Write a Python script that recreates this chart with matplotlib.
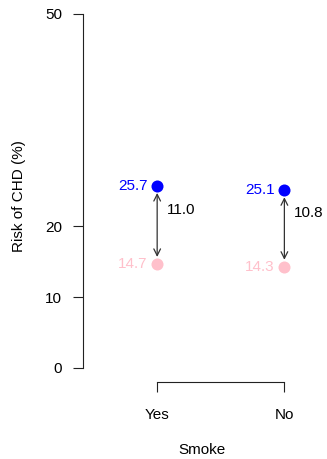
import matplotlib
matplotlib.use("Agg")
import matplotlib.pyplot as plt

plt.rcParams['font.family'] = ['Liberation Sans', 'DejaVu Sans']

# data
groups = ['Yes', 'No']
risk_high = [25.7, 25.1]   # blue points
risk_low = [14.7, 14.3]    # pink points
y_ticks = [0, 10, 20, 50]

W, H, DPI = 327, 459, 100
fig = plt.figure(figsize=(W / DPI, H / DPI), dpi=DPI)

# axes box in pixels: left 83, right 320, top 10, bottom 382
ax = fig.add_axes([83 / W, (H - 382) / H, (320 - 83) / W, (382 - 10) / H])

x = [1, 2]
ax.set_xlim(0.417, 2.28)
ax.set_ylim(-1.98, 50.56)

ax.scatter(x, risk_low, s=75, color='pink', zorder=3, linewidths=0)
ax.scatter(x, risk_high, s=75, color='blue', zorder=3, linewidths=0)

fs = 11
for xi, hi, lo in zip(x, risk_high, risk_low):
    ax.annotate('', xy=(xi, lo), xytext=(xi, hi),
                arrowprops=dict(arrowstyle='<->', color='#333333', lw=0.9,
                                shrinkA=5, shrinkB=5, mutation_scale=12))
    ax.annotate(f'{hi:.1f}', (xi, hi), xytext=(-7, 0), textcoords='offset points',
                ha='right', va='center', color='blue', fontsize=fs)
    ax.annotate(f'{lo:.1f}', (xi, lo), xytext=(-7, 0), textcoords='offset points',
                ha='right', va='center', color='pink', fontsize=fs)
    ax.annotate(f'{hi - lo:.1f}', (xi, (hi + lo) / 2), xytext=(7, 11),
                textcoords='offset points', ha='left', va='center',
                color='black', fontsize=fs)

for side in ['top', 'right']:
    ax.spines[side].set_visible(False)
ax.spines['left'].set_bounds(0, 50)
ax.spines['bottom'].set_bounds(1, 2)
for side in ['left', 'bottom']:
    ax.spines[side].set_linewidth(0.8)
    ax.spines[side].set_color('#222222')

ax.set_yticks(y_ticks)
ax.set_xticks(x)
ax.set_xticklabels(groups)
ax.tick_params(axis='both', length=7, width=0.8, color='#222222', labelsize=fs)
ax.tick_params(axis='x', pad=12)
ax.tick_params(axis='y', pad=8)

ax.set_ylabel('Risk of CHD (%)', fontsize=fs, labelpad=14)
ax.set_xlabel('Smoke', fontsize=fs, labelpad=15)

fig.savefig('out.png', dpi=DPI)
